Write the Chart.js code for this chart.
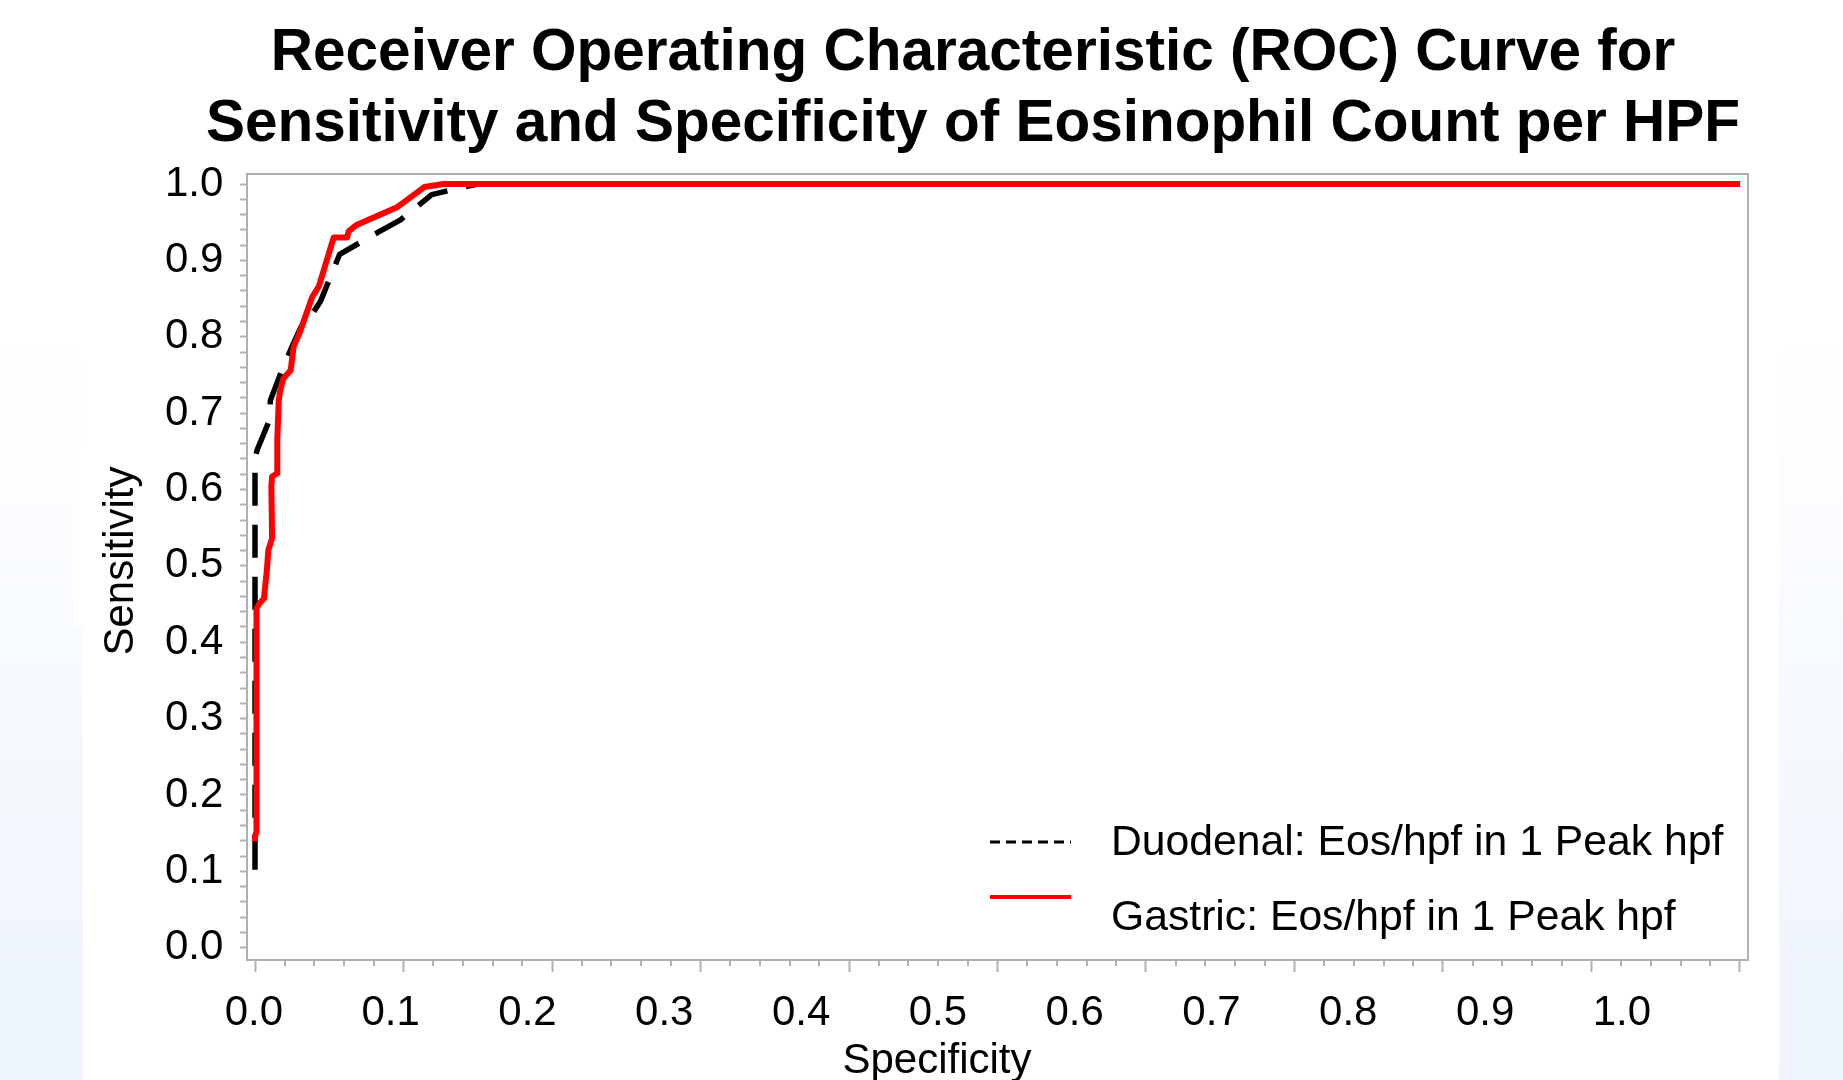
<!DOCTYPE html>
<html><head><meta charset="utf-8">
<script src="https://cdn.jsdelivr.net/npm/chart.js@4.4.1/dist/chart.umd.min.js"></script>
<style>
html,body{margin:0;padding:0;width:1843px;height:1080px;overflow:hidden;}
body{background:linear-gradient(to bottom,#ffffff 0px,#ffffff 330px,#edf4fd 1080px);position:relative;}
#paper{position:absolute;left:83px;top:0;width:1696px;height:1080px;background:#fff;}
#notch{position:absolute;left:73px;top:443px;width:12px;height:184px;background:#fff;}
#wrap{position:absolute;left:0;top:0;width:1843px;height:1080px;}
</style></head><body>
<div id="paper"></div><div id="notch"></div>
<div id="wrap"><canvas id="c"></canvas></div>
<script>
const titleLines = ['Receiver Operating Characteristic (ROC) Curve for', 'Sensitivity and Specificity of Eosinophil Count per HPF'];
const xAxisTitle = 'Specificity';
const yAxisTitle = 'Sensitivity';
const xTickLabels = ['0.0','0.1','0.2','0.3','0.4','0.5','0.6','0.7','0.8','0.9','1.0'];
const yTickLabels = ['0.0','0.1','0.2','0.3','0.4','0.5','0.6','0.7','0.8','0.9','1.0'];
const seriesNames = ['Duodenal: Eos/hpf in 1 Peak hpf', 'Gastric: Eos/hpf in 1 Peak hpf'];

const duodenalX = [0.000, 0.000, 0.0015, 0.0093, 0.0104, 0.0183, 0.024, 0.031, 0.036, 0.044, 0.057, 0.083, 0.098, 0.119, 0.134, 0.150, 1.000];
const duodenalY = [0.102, 0.640, 0.652, 0.689, 0.717, 0.757, 0.783, 0.813, 0.822, 0.846, 0.908, 0.937, 0.953, 0.986, 0.993, 1.000, 1.000];

const gastricX = [0.000, 0.000, 0.001, 0.001, 0.003, 0.006, 0.008, 0.009, 0.0115, 0.011, 0.0115, 0.015, 0.015, 0.016, 0.017, 0.019, 0.024, 0.026, 0.030, 0.0385, 0.043, 0.053, 0.062, 0.063, 0.068, 0.096, 0.114, 0.127, 1.000];
const gastricY = [0.139, 0.146, 0.152, 0.444, 0.451, 0.457, 0.495, 0.521, 0.536, 0.604, 0.617, 0.621, 0.665, 0.717, 0.730, 0.745, 0.756, 0.787, 0.805, 0.852, 0.866, 0.930, 0.930, 0.938, 0.946, 0.970, 0.996, 1.000, 1.000];

const FONT = "'Liberation Sans', Arial, Helvetica, sans-serif";
const AXIS_GRAY = '#adb1b5';

const framePlugin = {
  id: 'frame',
  beforeDatasetsDraw(chart) {
    const {ctx, chartArea: a, scales} = chart;
    ctx.save();
    ctx.strokeStyle = AXIS_GRAY;
    ctx.lineWidth = 2;
    ctx.strokeRect(a.left, a.top, a.right - a.left, a.bottom - a.top);
    // minor x ticks
    const xs = scales.x;
    for (let k = 0; k <= 50; k++) {
      if (k % 5 === 0) continue;
      const px = Math.round(xs.getPixelForValue(k * 0.02));
      ctx.beginPath();
      ctx.moveTo(px, a.bottom);
      ctx.lineTo(px, a.bottom + 6);
      ctx.stroke();
    }
    ctx.restore();
  },
  afterDraw(chart) {
    const {ctx} = chart;
    ctx.save();
    ctx.fillStyle = '#000';
    ctx.font = '42px ' + FONT;
    // x axis title
    ctx.textAlign = 'center';
    ctx.textBaseline = 'alphabetic';
    ctx.fillText(xAxisTitle, 937, 1073);
    // y axis title
    ctx.save();
    ctx.translate(133, 561);
    ctx.rotate(-Math.PI / 2);
    ctx.fillText(yAxisTitle, 0, 0);
    ctx.restore();
    // legend
    const ds = chart.data.datasets;
    ctx.font = '42.7px ' + FONT;
    ctx.textAlign = 'left';
    ctx.strokeStyle = ds[0].borderColor;
    ctx.lineWidth = 3;
    ctx.setLineDash([10, 6]);
    ctx.beginPath(); ctx.moveTo(990, 842); ctx.lineTo(1071, 842); ctx.stroke();
    ctx.setLineDash([]);
    ctx.fillText(ds[0].label, 1111, 855);
    ctx.strokeStyle = ds[1].borderColor;
    ctx.lineWidth = 4;
    ctx.beginPath(); ctx.moveTo(990, 897); ctx.lineTo(1071, 897); ctx.stroke();
    ctx.fillText(ds[1].label, 1111, 930);
    ctx.restore();
  }
};

const toPts = (xs, ys) => xs.map((x, i) => ({x: x, y: ys[i]}));

new Chart(document.getElementById('c'), {
  type: 'line',
  data: {
    datasets: [
      {label: seriesNames[0], data: toPts(duodenalX, duodenalY), xAxisID: 'x', yAxisID: 'y',
       borderColor: '#000000', borderWidth: 5.5,
       borderDash: [33, 19], pointRadius: 0, tension: 0, fill: false, order: 2, borderJoinStyle: 'round'},
      {label: seriesNames[1], data: toPts(gastricX, gastricY), xAxisID: 'x', yAxisID: 'y',
       borderColor: '#ff0000', borderWidth: 6,
       pointRadius: 0, tension: 0, fill: false, order: 1, borderJoinStyle: 'round'}
    ]
  },
  options: {
    responsive: true, maintainAspectRatio: false, animation: false,
    layout: {padding: {left: 198, right: 95, top: 0, bottom: 0}},
    plugins: {
      legend: {display: false},
      tooltip: {enabled: false},
      title: {display: true, text: titleLines, color: '#000',
        font: {family: FONT, size: 58.5, weight: 'bold', lineHeight: 71 / 58.5},
        padding: {top: 18, bottom: 14}}
    },
    scales: {
      x: {
        type: 'linear', axis: 'x', position: 'bottom', weight: 0,
        min: -0.00539, max: 1.00539,
        afterFit: (s) => { s.height = 12; },
        border: {display: false},
        grid: {drawOnChartArea: false, drawTicks: true, tickLength: 12, tickColor: AXIS_GRAY, tickWidth: 2},
        ticks: {stepSize: 0.1, includeBounds: false, autoSkip: false, maxRotation: 0, padding: 0,
          font: {family: FONT, size: 42}, callback: () => ''}
      },
      xLabels: {
        type: 'linear', axis: 'x', position: 'bottom', weight: 1,
        min: -0.00504, max: 1.0922,
        afterFit: (s) => { s.height = 108; },
        border: {display: false},
        grid: {display: false, drawTicks: false},
        ticks: {stepSize: 0.1, includeBounds: false, autoSkip: false, maxRotation: 0, padding: 16,
          color: '#000', font: {family: FONT, size: 42},
          callback: (v) => { const k = Math.round(v * 10); return xTickLabels[k] !== undefined ? xTickLabels[k] : ''; }}
      },
      y: {
        type: 'linear', axis: 'y', position: 'left',
        min: -0.0161, max: 1.0131,
        afterFit: (s) => { s.width = 49; },
        border: {display: false},
        grid: {drawOnChartArea: false, drawTicks: true, tickLength: 7, tickColor: AXIS_GRAY, tickWidth: 2},
        ticks: {stepSize: 0.02, includeBounds: false, autoSkip: false, maxTicksLimit: 200,
          mirror: true, crossAlign: 'far', padding: -82,
          color: '#000', font: {family: FONT, size: 42},
          callback: (v) => { const k = v * 10; const r = Math.round(k); return Math.abs(k - r) < 1e-6 ? yTickLabels[r] : ''; }}
      }
    }
  },
  plugins: [framePlugin]
});
</script>
</body></html>
